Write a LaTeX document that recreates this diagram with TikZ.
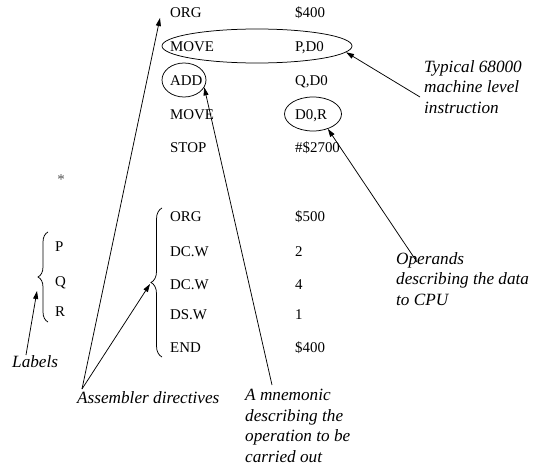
\documentclass[tikz,border=0pt]{standalone}
\usepackage{fontspec}
\setmainfont{Liberation Serif}
\usetikzlibrary{calc,arrows.meta,shapes.geometric,decorations.pathreplacing}
\definecolor{stargray}{RGB}{85,85,85}
\tikzset{
  codetext/.style={font=\fontsize{14.9}{17}\selectfont,anchor=west,inner sep=0pt,text height=10pt,text depth=0pt},
  notetext/.style={font=\fontsize{17.2}{20.6}\selectfont\itshape,align=left,anchor=north west,inner sep=0pt},
  ringline/.style={draw,ellipse,inner sep=0pt,line width=0.75pt},
  pointer/.style={line width=0.75pt,-{Triangle[length=8pt,width=5pt]}},
  bracket/.style={decorate,decoration={brace,amplitude=#1},line width=0.75pt},
}
\begin{document}
\begin{tikzpicture}[x=1pt,y=-1pt]
  \useasboundingbox (0,0) rectangle (540,465);
  % listing
  \foreach \nm/\op/\arg/\yy in {org/ORG/\$400/13, mvp/MOVE/{P,D0}/47, add/ADD/{Q,D0}/81,
      mvr/MOVE/{D0,R}/115, stop/STOP/\#\$2700/148, orgb/ORG/\$500/216, dcp/DC.W/2/251,
      dcq/DC.W/4/284, dsr/DS.W/1/314, fin/END/\$400/347}{
    \node[codetext] (\nm) at (170,\yy) {\op};
    \node[codetext] (\nm arg) at (295,\yy) {\arg};
  }
  \foreach \nm/\yy in {P/246,Q/281,R/311}
    \node[codetext] (lab\nm) at (55,\yy) {\nm};
  \node[font=\fontsize{15}{15}\selectfont,text=stargray] (star) at (61,180) {*};
  % rings
  \node[ringline,minimum width=190pt,minimum height=34pt] (ring1) at (257,46) {};
  \node[ringline,minimum width=44pt,minimum height=34pt] (ring2) at (184,80) {};
  \node[ringline,minimum width=57pt,minimum height=34pt] (ring3) at (313,114) {};
  % braces
  \draw[bracket=10pt] (48,322) -- (48,232);
  \draw[bracket=11pt] (162,357) -- (162,208);
  \coordinate (labtip) at (37,291);
  \coordinate (dirtip) at (150,284);
  \coordinate (orgtip) at ($(org.west)+(-10,5)$);
  % notes
  \node[notetext] (typ) at (424,60) {Typical 68000\\machine level\\instruction};
  \node[notetext] (opd) at (396,252) {Operands\\describing the data\\to CPU};
  \node[notetext] (lbl) at (12,355) {Labels};
  \node[notetext] (asm) at (77,391) {Assembler directives};
  \node[notetext] (mnem) at (245,389) {A mnemonic\\describing the\\operation to be\\carried out};
  % pointers
  \draw[pointer] ($(asm.north west)+(5,-2)$) -- (orgtip);
  \draw[pointer] ($(asm.north west)+(5,-2)$) -- (dirtip);
  \draw[pointer] ($(lbl.north west)+(14,0)$) -- (labtip);
  \draw[pointer] ($(mnem.north west)+(27,-4)$) -- (ring2.-20);
  \draw[pointer] ($(typ.north west)+(-4,37)$) -- (ring1.-4);
  \draw[pointer] ($(opd.north west)+(21,10)$) -- (ring3.-45);
\end{tikzpicture}
\end{document}
